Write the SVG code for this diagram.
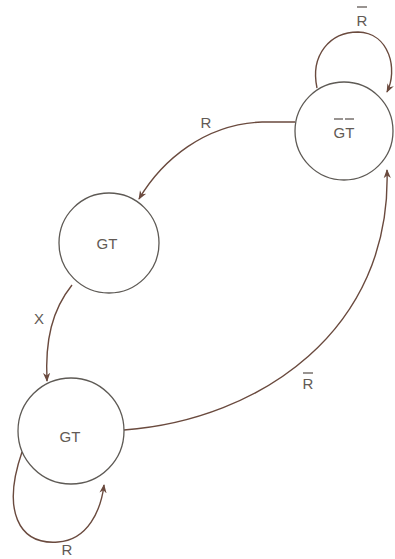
<svg xmlns="http://www.w3.org/2000/svg" width="395" height="559" viewBox="0 0 395 559">
<style>
.node{fill:#fff;stroke:#5e5a55;stroke-width:1.3}
.edge{fill:none;stroke:#6a4a3e;stroke-width:1.4}
.lbl{font-family:"Liberation Sans",Arial,sans-serif;font-size:15px;fill:#625a55;text-anchor:middle}
.bar{stroke:#625a55;stroke-width:1.3}
</style>
<defs>
<marker id="arr" viewBox="0 0 10 10" refX="9" refY="5" markerWidth="9" markerHeight="9" orient="auto" markerUnits="userSpaceOnUse">
<path d="M0,1 L10,5 L0,9 L3,5 Z" fill="#6a4a3e"/>
</marker>
</defs>
<rect width="395" height="559" fill="#fff"/>
<g id="connectors">
<path class="edge" d="M295 122 L262 122 C205 124 162 160 139 199" marker-end="url(#arr)"/>
<path class="edge" d="M72 285 C52 310 45 340 47 381" marker-end="url(#arr)"/>
<path class="edge" d="M124 430 C260 420 392 330 387 170" marker-end="url(#arr)"/>
<path class="edge" d="M317 88 C310 55 330 32 358 32 C390 33 398 70 387 92" marker-end="url(#arr)"/>
<path class="edge" d="M22 452 C2 510 18 545 58 542 C88 540 101 510 104 485" marker-end="url(#arr)"/>
</g>
<g id="node-gtbar">
<circle class="node" cx="344" cy="131" r="49"/>
<text class="lbl" x="344" y="138">GT</text>
<line class="bar" x1="334" y1="119" x2="343" y2="119"/>
<line class="bar" x1="345" y1="119" x2="354" y2="119"/>
</g>
<g id="node-gt1">
<circle class="node" cx="109" cy="243" r="50"/>
<text class="lbl" x="107" y="249">GT</text>
</g>
<g id="node-gt2">
<circle class="node" cx="71" cy="431" r="53"/>
<text class="lbl" x="70" y="442">GT</text>
</g>
<g id="labels">
<text class="lbl" x="206" y="128">R</text>
<text class="lbl" x="39" y="324">X</text>
<text class="lbl" x="308" y="389">R</text>
<line class="bar" x1="303" y1="373" x2="313" y2="373"/>
<text class="lbl" x="362" y="26">R</text>
<line class="bar" x1="357" y1="7" x2="367" y2="7"/>
<text class="lbl" x="67" y="555">R</text>
</g>
</svg>
